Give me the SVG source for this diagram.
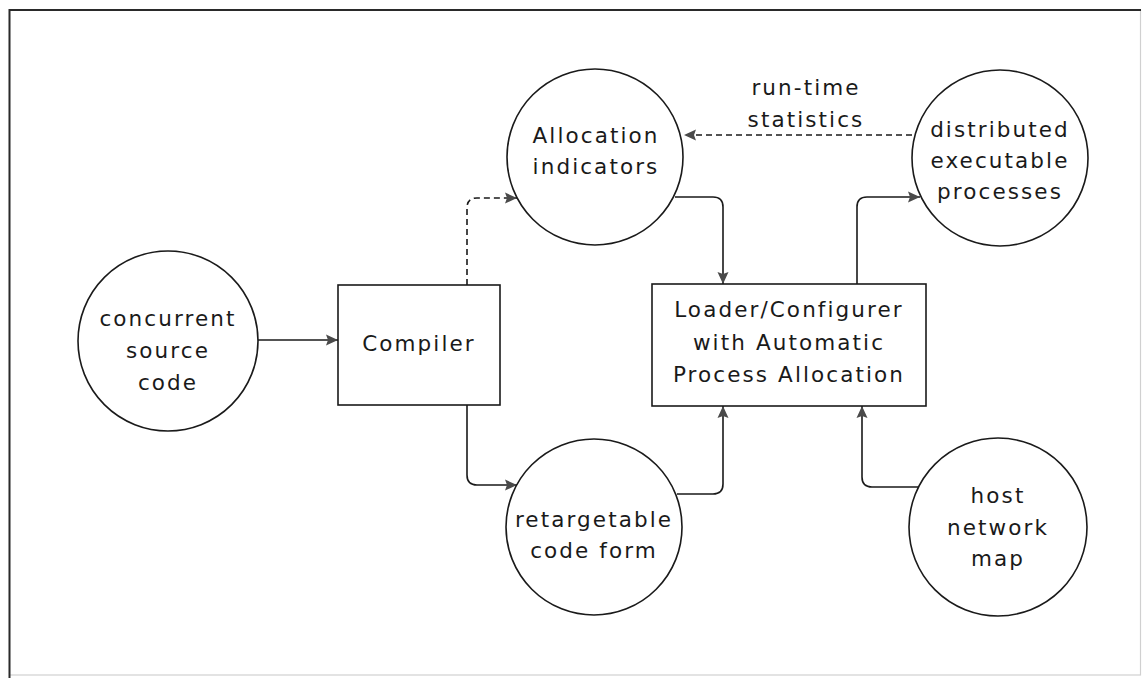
<svg xmlns="http://www.w3.org/2000/svg" width="1144" height="678" viewBox="0 0 1144 678">
  <defs>
    <style>
      .node { fill: #ffffff; stroke: #1a1a1a; stroke-width: 1.6; }
      .label { font-family: "DejaVu Sans", "Liberation Sans", sans-serif; font-size: 21.5px; letter-spacing: 2.1px; fill: #1a1a1a; text-anchor: middle; }
      .flow { fill: none; stroke: #1a1a1a; stroke-width: 1.6; }
      .dashed { stroke-dasharray: 6 4; }
    </style>
    <marker id="arrow" markerUnits="userSpaceOnUse" markerWidth="14" markerHeight="12" refX="12" refY="6" orient="auto">
      <path d="M0,0.5 L12,6 L0,11.5 L2,6 Z" fill="#4a4a4a"/>
    </marker>
  </defs>

  <!-- page frame -->
  <rect x="0" y="0" width="1144" height="678" fill="#ffffff"/>
  <rect x="9.5" y="10" width="1131" height="665" fill="none" stroke="#d0d0d0" stroke-width="1.2"/>
  <path d="M9.5,678 V10 H1141" fill="none" stroke="#2a2a2a" stroke-width="2"/>

  <!-- connectors -->
  <g id="connectors">
    <path class="flow" d="M258,340 H338" marker-end="url(#arrow)"/>
    <path class="flow dashed" d="M467,285 V208 Q467,198 477,198 H517" marker-end="url(#arrow)"/>
    <path class="flow" d="M675,197 H713 Q723,197 723,207 V284" marker-end="url(#arrow)"/>
    <path class="flow" d="M467,405 V475 Q467,485 477,485 H517" marker-end="url(#arrow)"/>
    <path class="flow" d="M677,494 H713 Q723,494 723,484 V406" marker-end="url(#arrow)"/>
    <path class="flow" d="M857,284 V207 Q857,197 867,197 H920" marker-end="url(#arrow)"/>
    <path class="flow" d="M918,487 H872 Q862,487 862,477 V406" marker-end="url(#arrow)"/>
    <path class="flow dashed" d="M912,135 H684" marker-end="url(#arrow)"/>
    <text class="label" x="806" y="95">run-time</text>
    <text class="label" x="806" y="127">statistics</text>
  </g>

  <g id="source-code">
    <circle class="node" cx="168" cy="341" r="90"/>
    <text class="label" x="168" y="326">concurrent</text>
    <text class="label" x="168" y="358">source</text>
    <text class="label" x="168" y="390">code</text>
  </g>

  <g id="compiler">
    <rect class="node" x="338" y="285" width="162" height="120"/>
    <text class="label" x="419" y="351">Compiler</text>
  </g>

  <g id="allocation-indicators">
    <circle class="node" cx="595" cy="157" r="88"/>
    <text class="label" x="596" y="143">Allocation</text>
    <text class="label" x="596" y="174">indicators</text>
  </g>

  <g id="retargetable-code">
    <circle class="node" cx="594" cy="527" r="88"/>
    <text class="label" x="594" y="527">retargetable</text>
    <text class="label" x="594" y="558">code form</text>
  </g>

  <g id="loader">
    <rect class="node" x="652" y="284" width="274" height="122"/>
    <text class="label" x="789" y="317">Loader/Configurer</text>
    <text class="label" x="789" y="350">with Automatic</text>
    <text class="label" x="789" y="382">Process Allocation</text>
  </g>

  <g id="distributed-processes">
    <circle class="node" cx="1000" cy="158" r="88"/>
    <text class="label" x="1000" y="137">distributed</text>
    <text class="label" x="1000" y="168">executable</text>
    <text class="label" x="1000" y="199">processes</text>
  </g>

  <g id="host-network-map">
    <circle class="node" cx="998" cy="527" r="89"/>
    <text class="label" x="998" y="503">host</text>
    <text class="label" x="998" y="535">network</text>
    <text class="label" x="998" y="566">map</text>
  </g>
</svg>
